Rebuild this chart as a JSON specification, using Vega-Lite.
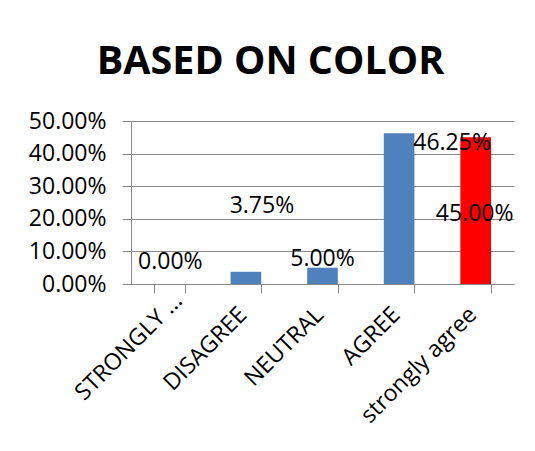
{
  "$schema": "https://vega.github.io/schema/vega-lite/v6.json",
  "autosize": {"type": "none"},
  "padding": {"left": 131, "top": 121, "right": 21, "bottom": 167},
  "width": 383,
  "height": 163,
  "background": "white",
  "title": {
    "text": "BASED ON COLOR",
    "font": "Open Sans",
    "fontSize": 39.5,
    "fontWeight": "bold",
    "color": "#000",
    "anchor": "middle",
    "dx": -52,
    "dy": 27,
    "baseline": "alphabetic",
    "offset": 24
  },
  "config": {
    "view": {"stroke": null},
    "font": "Open Sans",
    "axis": {
      "labelFont": "Open Sans",
      "labelFontSize": 23,
      "labelColor": "#000",
      "domainColor": "#888",
      "tickColor": "#888",
      "gridColor": "#888",
      "tickSize": 9,
      "title": null
    }
  },
  "data": {
    "values": [
      {"category": "STRONGLY DISAGREE", "value": 0.0},
      {"category": "DISAGREE", "value": 0.0375},
      {"category": "NEUTRAL", "value": 0.05},
      {"category": "AGREE", "value": 0.4625},
      {"category": "strongly agree", "value": 0.45}
    ]
  },
  "encoding": {
    "x": {
      "field": "category",
      "type": "nominal",
      "sort": null,
      "scale": {"paddingInner": 0.6, "paddingOuter": 0.3},
      "axis": {
        "labelAngle": -45,
        "labelAlign": "right",
        "labelBaseline": "top",
        "labelExpr": "datum.label == 'STRONGLY DISAGREE' ? 'STRONGLY ...' : datum.label",
        "labelPadding": {"condition": {"test": "datum.value == 'STRONGLY DISAGREE'", "value": -4}, "value": 10},
        "labelOffset": {"condition": {"test": "datum.value == 'STRONGLY DISAGREE'", "value": 1}, "value": -11},
        "tickBand": "extent",
        "grid": false,
        "labelLimit": 300
      }
    },
    "y": {
      "field": "value",
      "type": "quantitative",
      "scale": {"domain": [0, 0.5], "nice": false},
      "axis": {
        "format": ".2%",
        "values": [0, 0.1, 0.2, 0.3, 0.4, 0.5],
        "labelPadding": 16,
        "grid": true
      }
    }
  },
  "layer": [
    {
      "mark": {"type": "bar"},
      "encoding": {
        "color": {
          "condition": {"test": "datum.category == 'strongly agree'", "value": "#FF0000"},
          "value": "#4F81BD"
        }
      }
    },
    {
      "transform": [{"filter": "datum.category == 'STRONGLY DISAGREE'"}],
      "mark": {"type": "text", "fontSize": 23, "font": "Open Sans", "color": "#000", "baseline": "middle", "dx": 1, "dy": -22},
      "encoding": {"text": {"field": "value", "format": ".2%"}}
    },
    {
      "transform": [{"filter": "datum.category == 'DISAGREE'"}],
      "mark": {"type": "text", "fontSize": 23, "font": "Open Sans", "color": "#000", "baseline": "middle", "dx": 16, "dy": -66},
      "encoding": {"text": {"field": "value", "format": ".2%"}}
    },
    {
      "transform": [{"filter": "datum.category == 'NEUTRAL'"}],
      "mark": {"type": "text", "fontSize": 23, "font": "Open Sans", "color": "#000", "baseline": "middle", "dx": 0, "dy": -9},
      "encoding": {"text": {"field": "value", "format": ".2%"}}
    },
    {
      "transform": [{"filter": "datum.category == 'AGREE'"}],
      "mark": {"type": "text", "fontSize": 23, "font": "Open Sans", "color": "#000", "baseline": "middle", "dx": 53, "dy": 10},
      "encoding": {"text": {"field": "value", "format": ".2%"}}
    },
    {
      "transform": [{"filter": "datum.category == 'strongly agree'"}],
      "mark": {"type": "text", "fontSize": 23, "font": "Open Sans", "color": "#000", "baseline": "middle", "dx": -1, "dy": 77},
      "encoding": {"text": {"field": "value", "format": ".2%"}}
    }
  ]
}
